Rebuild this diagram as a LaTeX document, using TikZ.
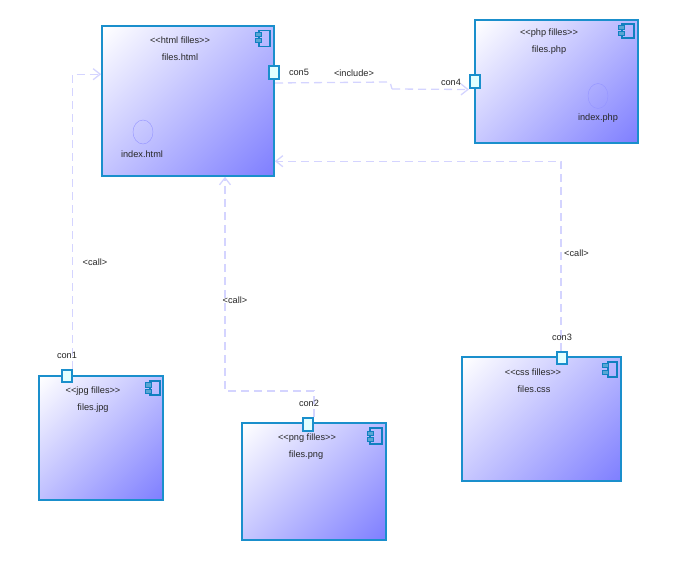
\documentclass[tikz,border=0pt]{standalone}
\usepackage{fontspec}
\setmainfont{Liberation Sans}
\usetikzlibrary{arrows.meta,shapes.geometric}
\definecolor{edgeblue}{HTML}{1A8FCC}
\definecolor{iconblue}{HTML}{1080C0}
\definecolor{linkblue}{HTML}{D4D4FF}
\definecolor{endblue}{HTML}{7F7FFF}
\definecolor{portfill}{HTML}{E2FFFF}
\pgfdeclareverticalshading{boxgrad}{100bp}{color(0bp)=(endblue); color(15bp)=(endblue); color(85bp)=(white); color(100bp)=(white)}
\tikzset{
  compbox/.style={draw=edgeblue, line width=1.6pt, inner sep=0pt, shading=boxgrad, shading angle=45},
  portbox/.style={draw=edgeblue, line width=2pt, inner sep=0pt, fill=portfill, minimum width=10, minimum height=12},
  iconbody/.style={draw=iconblue, line width=1.5pt, inner sep=0pt},
  iconpeg/.style={draw=iconblue, fill=iconblue!70, line width=1pt, inner sep=0pt, minimum width=6, minimum height=4},
  artifact/.style={draw=linkblue!70!blue, ellipse, inner sep=0pt},
  label/.style={font=\fontsize{9.2}{10}\selectfont, text=black!85, inner sep=0pt},
  link/.style={draw=linkblue, line width=1.3pt, dash pattern=on 8pt off 5pt, -{Straight Barb[length=7pt, width=11pt]}},
  plainlink/.style={draw=linkblue, line width=1.3pt, dash pattern=on 8pt off 5pt}
}
\begin{document}
\begin{tikzpicture}[x=1pt, y=-1pt]
\useasboundingbox (0,0) rectangle (683,569);

\node[compbox, minimum width=172, minimum height=150] (html) at (188,101) {};
\node[compbox, minimum width=163, minimum height=123] (php) at (556.5,81.5) {};
\node[compbox, minimum width=124, minimum height=124] (jpg) at (101,438) {};
\node[compbox, minimum width=144, minimum height=117] (png) at (314,481.5) {};
\node[compbox, minimum width=159, minimum height=124] (css) at (541.5,419) {};

\node[iconbody, minimum width=11, minimum height=16] (htmlicon) at (264.5,38.5) {};
\node[iconpeg] (htmlpega) at (258,35) {};
\node[iconpeg] (htmlpegb) at (258,41) {};
\node[iconbody, minimum width=12, minimum height=14] (phpicon) at (628,31) {};
\node[iconpeg] (phppega) at (621,28) {};
\node[iconpeg] (phppegb) at (621,34) {};
\node[iconbody, minimum width=10, minimum height=14] (jpgicon) at (155,388) {};
\node[iconpeg] (jpgpega) at (148,385) {};
\node[iconpeg] (jpgpegb) at (148,391) {};
\node[iconbody, minimum width=12, minimum height=16] (pngicon) at (376,436) {};
\node[iconpeg] (pngpega) at (370,433) {};
\node[iconpeg] (pngpegb) at (370,439) {};
\node[iconbody, minimum width=9, minimum height=15] (cssicon) at (612.5,369.5) {};
\node[iconpeg] (csspega) at (605,366) {};
\node[iconpeg] (csspegb) at (605,373) {};

\node[artifact, minimum width=20, minimum height=24] (htmlindex) at (143,132) {};
\node[artifact, minimum width=20, minimum height=25] (phpindex) at (598,96) {};

\coordinate (includea) at (390,82);
\coordinate (includeb) at (392,89);
\coordinate (callbend) at (225,391);

\node[portbox, minimum height=13] (con5) at (274,72.5) {};
\node[portbox, minimum height=13] (con4) at (475,82) {};
\node[portbox] (con1) at (66.5,376) {};
\node[portbox, minimum height=13] (con2) at (308,424.5) {};
\node[portbox] (con3) at (562,358) {};

\draw[link] (con1.north east) |- ([yshift=-49]html.north west);
\draw[link] (con2.north east) |- (callbend) -- (html.south -| callbend);
\draw[link] ([xshift=-1]con3.north) |- ([yshift=-136]html.north east);
\draw[plainlink] (con5.south) ++(1,3) -- (includea) -- (includeb);
\draw[link] (includeb) -- (con4.south west);

\node[label] (htmltype) at (180,40) {<{}<html filles>{}>};
\node[label] (htmlname) at (180,57) {files.html};
\node[label] (htmlfile) at (142,154) {index.html};
\node[label] (phptype) at (549,33) {<{}<php filles>{}>};
\node[label] (phpname) at (549,50) {files.php};
\node[label] (phpfile) at (598,118) {index.php};
\node[label] (jpgtype) at (93,391) {<{}<jpg filles>{}>};
\node[label] (jpgname) at (93,408) {files.jpg};
\node[label] (pngtype) at (307,438) {<{}<png filles>{}>};
\node[label] (pngname) at (306,455) {files.png};
\node[label] (csstype) at (533,372) {<{}<css filles>{}>};
\node[label] (cssname) at (534,389) {files.css};

\node[label] (con5text) at (299,72) {con5};
\node[label] (con4text) at (451,82) {con4};
\node[label] (con1text) at (67,355) {con1};
\node[label] (con2text) at (309,403) {con2};
\node[label] (con3text) at (562,337) {con3};

\node[label] (includetext) at (354,73) {<include>};
\node[label] (calljpg) at (95,262) {<call>};
\node[label] (callpng) at (235,300) {<call>};
\node[label] (callcss) at (576.5,253) {<call>};
\end{tikzpicture}
\end{document}
